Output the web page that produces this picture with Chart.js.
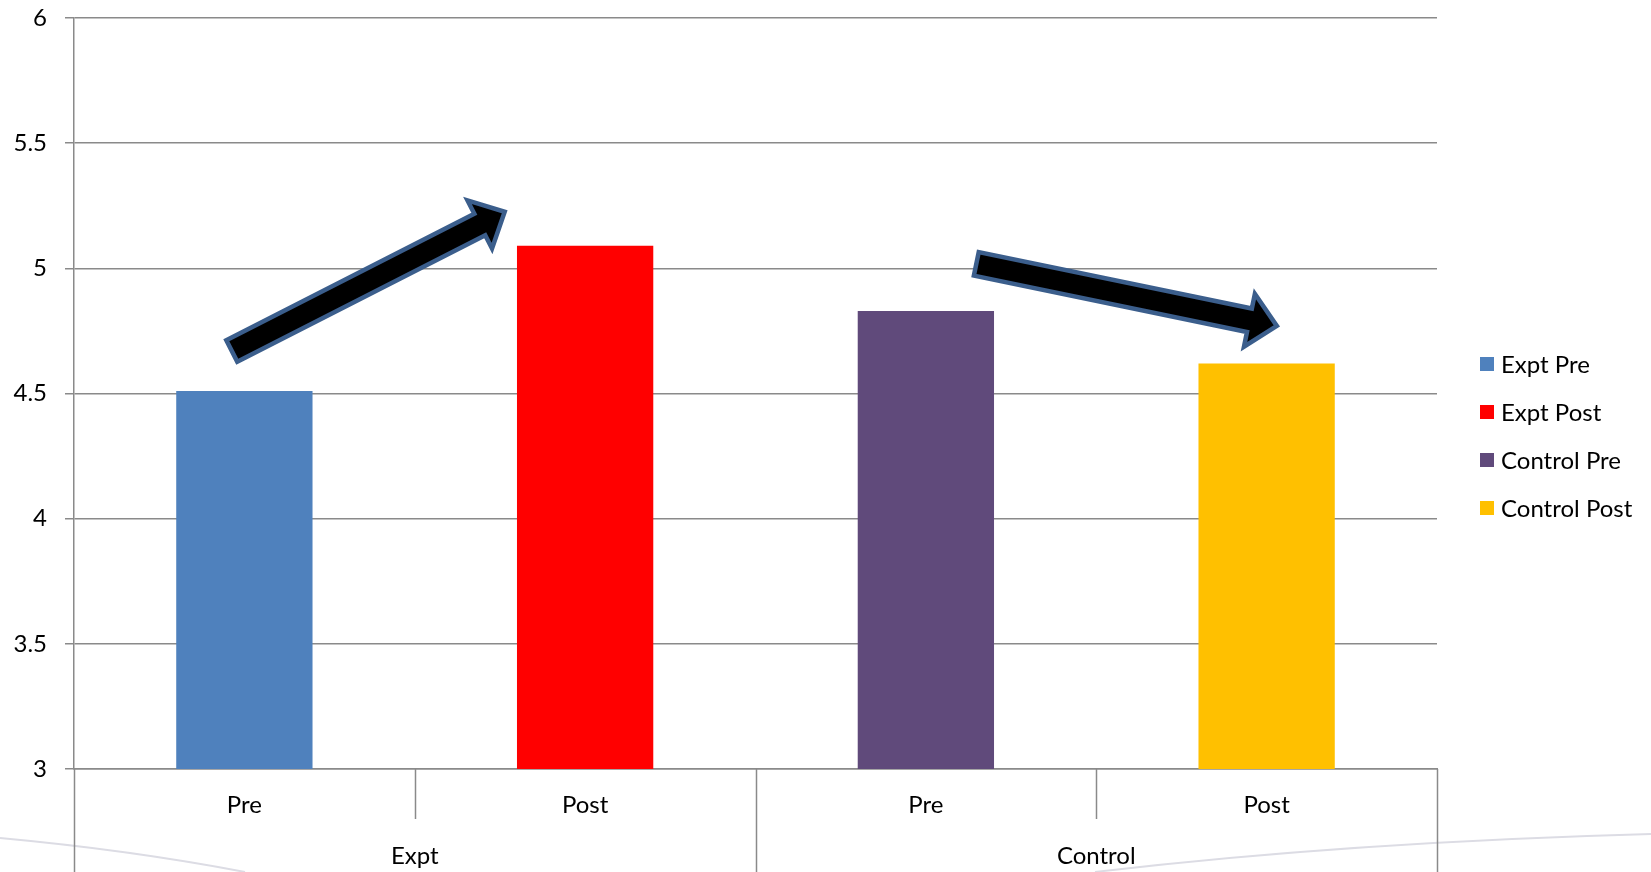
<!DOCTYPE html>
<html lang="en">
<head>
<meta charset="UTF-8">
<title>Expt vs Control</title>
<script src="https://cdn.jsdelivr.net/npm/chart.js"></script>
<style>
  html, body { margin: 0; padding: 0; background: #fff; }
  #wrap { width: 1651px; height: 872px; }
</style>
</head>
<body>
<div id="wrap"><canvas id="prePost"></canvas></div>
<script>
const categories = ['Pre', 'Post', 'Pre', 'Post'];
const groups = ['Expt', 'Control'];
const seriesNames = ['Expt Pre', 'Expt Post', 'Control Pre', 'Control Post'];
const seriesValues = [4.51, 5.09, 4.83, 4.62];
const seriesColors = ['#4F81BD', '#FF0000', '#604A7B', '#FFC000'];
const yTicks = [3, 3.5, 4, 4.5, 5, 5.5, 6];
// trend arrows drawn over the bars: [from index, from value, to index, to value]
const arrows = [[-0.037, 4.67, 0.764, 5.226], [2.148, 5.018, 3.03, 4.77]];

const FONT = 'Lato';
const GRID = '#8a8a8a';

// each series only has a value in its own category
const datasets = seriesNames.map((name, i) => ({
    label: name,
    data: categories.map((c, j) => (j === i ? seriesValues[i] : null)),
    backgroundColor: seriesColors[i],
    categoryPercentage: 1,
    barPercentage: 0.4
}));

const backdrop = {
    id: 'backdrop',
    beforeDraw(chart) {
        const ctx = chart.ctx;
        ctx.save();
        ctx.strokeStyle = '#dcdce4';
        ctx.lineWidth = 2;
        ctx.beginPath();
        ctx.moveTo(0, 838);
        ctx.quadraticCurveTo(130, 850, 245, 872);
        ctx.stroke();
        ctx.beginPath();
        ctx.moveTo(1095, 872);
        ctx.quadraticCurveTo(1350, 842, 1651, 834);
        ctx.stroke();
        ctx.restore();
    }
};

const dividers = {
    id: 'dividers',
    afterDraw(chart) {
        const x = chart.scales.x;
        const ctx = chart.ctx;
        const base = chart.chartArea.bottom;
        ctx.save();
        ctx.strokeStyle = GRID;
        ctx.lineWidth = 1.5;
        for (let i = 0; i <= categories.length; i++) {
            const px = Math.round(x.getPixelForValue(i - 0.5)) + 0.5;
            const outer = i % 2 === 0;
            ctx.beginPath();
            ctx.moveTo(px, base);
            ctx.lineTo(px, outer ? chart.height : base + 50);
            ctx.stroke();
        }
        ctx.restore();
    }
};

const trendArrows = {
    id: 'trendArrows',
    afterDatasetsDraw(chart) {
        const x = chart.scales.x, y = chart.scales.y;
        const ctx = chart.ctx;
        const shaft = 12, head = 27, headLen = 28;
        ctx.save();
        arrows.forEach(a => {
            const x0 = x.getPixelForValue(a[0]), y0 = y.getPixelForValue(a[1]);
            const x1 = x.getPixelForValue(a[2]), y1 = y.getPixelForValue(a[3]);
            const len = Math.hypot(x1 - x0, y1 - y0);
            const ux = (x1 - x0) / len, uy = (y1 - y0) / len;
            const nx = -uy, ny = ux;
            const kx = x1 - ux * headLen, ky = y1 - uy * headLen;
            ctx.beginPath();
            ctx.moveTo(x0 + nx * shaft, y0 + ny * shaft);
            ctx.lineTo(kx + nx * shaft, ky + ny * shaft);
            ctx.lineTo(kx + nx * head, ky + ny * head);
            ctx.lineTo(x1, y1);
            ctx.lineTo(kx - nx * head, ky - ny * head);
            ctx.lineTo(kx - nx * shaft, ky - ny * shaft);
            ctx.lineTo(x0 - nx * shaft, y0 - ny * shaft);
            ctx.closePath();
            ctx.fillStyle = '#000';
            ctx.fill();
            ctx.lineWidth = 4.5;
            ctx.lineJoin = 'miter';
            ctx.strokeStyle = '#3B5E8C';
            ctx.stroke();
        });
        ctx.restore();
    }
};

const sideLegend = {
    id: 'sideLegend',
    afterDraw(chart) {
        const ctx = chart.ctx;
        const left = chart.chartArea.right + 43;
        const top = 364;
        ctx.save();
        ctx.font = '24px ' + FONT;
        ctx.textBaseline = 'middle';
        chart.data.datasets.forEach((ds, i) => {
            const cy = top + i * 48;
            ctx.fillStyle = ds.backgroundColor;
            ctx.fillRect(left, cy - 7, 14, 14);
            ctx.fillStyle = '#000';
            ctx.fillText(ds.label, left + 21, cy + 1);
        });
        ctx.restore();
    }
};

new Chart(document.getElementById('prePost'), {
    type: 'bar',
    data: { labels: categories, datasets: datasets },
    plugins: [backdrop, dividers, trendArrows, sideLegend],
    options: {
        responsive: true,
        maintainAspectRatio: false,
        animation: false,
        skipNull: true,
        layout: { padding: { top: 18, right: 214, left: 0, bottom: 0 } },
        plugins: { legend: { display: false }, tooltip: { enabled: false } },
        scales: {
            x: {
                offset: true,
                grid: { display: false },
                border: { display: true, color: GRID, width: 1.5 },
                ticks: { color: '#000', font: { family: FONT, size: 24 }, padding: 14 },
                afterFit(scale) { scale.height = 60; }
            },
            group: {
                type: 'category',
                labels: groups,
                position: 'bottom',
                offset: true,
                grid: { display: false },
                border: { display: false },
                ticks: { color: '#000', font: { family: FONT, size: 24 }, padding: 5 },
                afterFit(scale) { scale.height = 43; }
            },
            y: {
                min: 3,
                max: 6,
                afterBuildTicks(scale) { scale.ticks = yTicks.map(v => ({ value: v })); },
                grid: { color: GRID, lineWidth: 1.5, tickLength: 9 },
                border: { color: GRID, width: 1.5 },
                ticks: {
                    color: '#000',
                    font: { family: FONT, size: 24 },
                    padding: 18,
                    callback: v => String(v)
                },
                afterFit(scale) {
                    scale.width = 74;
                    scale.paddingTop = 0;
                    scale.paddingBottom = 0;
                }
            }
        }
    }
});
</script>
</body>
</html>
